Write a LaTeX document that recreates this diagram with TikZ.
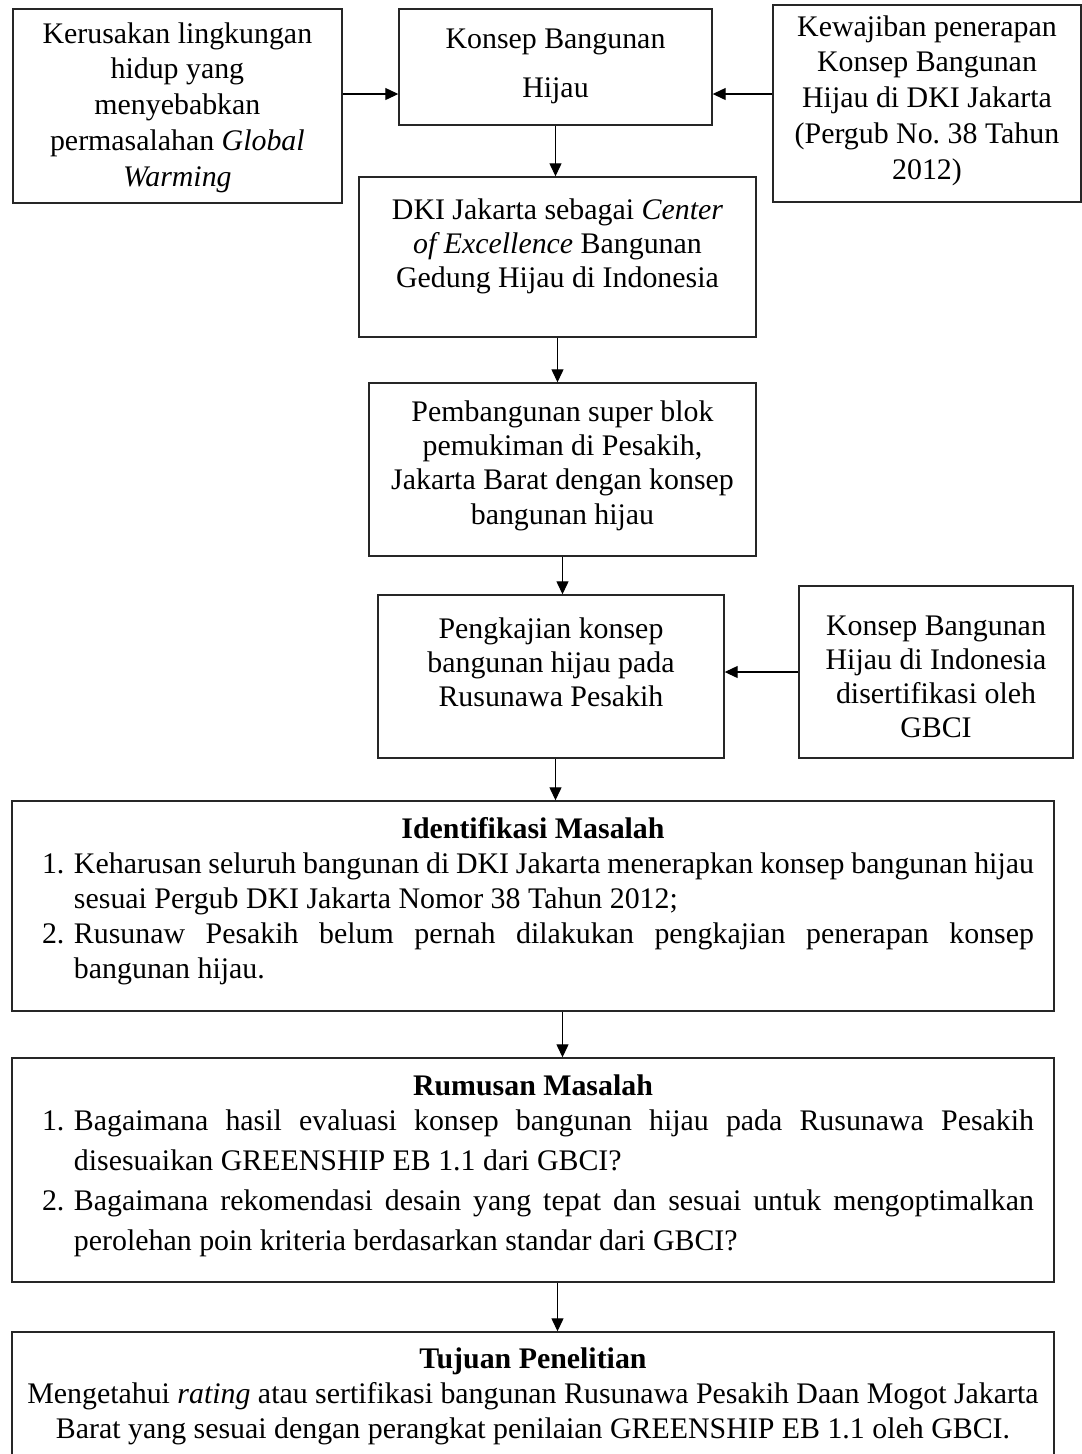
\documentclass[tikz,border=0pt]{standalone}
\usepackage{fontspec}
\setmainfont{Liberation Serif}
\usetikzlibrary{arrows.meta}
\tolerance=9999
\hyphenpenalty=10000
\frenchspacing
\newcommand{\butir}[2]{\par\noindent\hangindent=0.42cm\hangafter=1\hspace*{0.1cm}\makebox[0.32cm][l]{#1}#2\par}
\begin{document}
\begin{tikzpicture}[
  kotak/.style={draw=black!85,line width=0.4pt,inner sep=0pt,align=flush center},
  huruf/.style={font=\fontsize{8.5pt}{#1}\selectfont\frenchspacing},
  isi/.style 2 args={text height=#1,text depth=#2},
  panah/.style={-{Triangle[length=0.13cm,width=0.12cm]},line width=0.35pt}]
\useasboundingbox (0,0) rectangle (10.82,-14.54);
\coordinate (jalur) at (0,-0.94);

\node[kotak,huruf=10.2pt,isi={0.34cm}{1.60cm},minimum width=3.29cm,minimum height=1.94cm,text width=3.2cm] (kerusakan) at (1.774,-1.06) {Kerusakan lingkungan\\ hidup yang\\ menyebabkan\\ permasalahan \textit{Global}\\ \textit{Warming}};
\node[kotak,huruf=14.2pt,isi={0.39cm}{0.77cm},minimum width=3.13cm,minimum height=1.16cm,text width=3cm] (konsep) at (5.555,-0.67) {Konsep Bangunan\\ Hijau};
\node[kotak,huruf=10.2pt,isi={0.31cm}{1.66cm},minimum width=3.08cm,minimum height=1.97cm,text width=3cm] (kewajiban) at (9.27,-1.035) {Kewajiban penerapan\\ Konsep Bangunan\\ Hijau di DKI Jakarta\\ (Pergub No. 38 Tahun\\ 2012)};
\node[kotak,huruf=9.7pt,isi={0.42cm}{1.18cm},minimum width=3.97cm,minimum height=1.6cm,text width=3.9cm] (dki) at (5.575,-2.57) {DKI Jakarta sebagai \textit{Center}\\ \textit{of Excellence} Bangunan\\ Gedung Hijau di Indonesia};
\node[kotak,huruf=9.8pt,isi={0.38cm}{1.35cm},minimum width=3.87cm,minimum height=1.73cm,text width=3.8cm] (pembangunan) at (5.625,-4.695) {Pembangunan super blok\\ pemukiman di Pesakih,\\ Jakarta Barat dengan konsep\\ bangunan hijau};
\node[kotak,huruf=9.7pt,isi={0.43cm}{1.20cm},minimum width=3.46cm,minimum height=1.63cm,text width=3.4cm] (pengkajian) at (5.51,-6.765) {Pengkajian konsep\\ bangunan hijau pada\\ Rusunawa Pesakih};
\node[kotak,huruf=9.7pt,isi={0.49cm}{1.23cm},minimum width=2.74cm,minimum height=1.72cm,text width=2.7cm] (gbci) at (9.36,-6.72) {Konsep Bangunan\\ Hijau di Indonesia\\ disertifikasi oleh\\ GBCI};

\node[kotak,huruf=9.96pt,isi={0.37cm}{1.73cm},align=justify,minimum width=10.42cm,minimum height=2.1cm,text width=10.02cm] (identifikasi) at (5.33,-9.06) {{\centering\textbf{Identifikasi Masalah}\par}
  \butir{1.}{Keharusan seluruh bangunan di DKI Jakarta menerapkan konsep bangunan hijau\linebreak sesuai Pergub DKI Jakarta Nomor 38 Tahun 2012;}
  \butir{2.}{Rusunaw Pesakih belum pernah dilakukan pengkajian penerapan konsep\linebreak bangunan hijau.}};
\node[kotak,huruf=11.4pt,isi={0.37cm}{1.87cm},align=justify,minimum width=10.42cm,minimum height=2.24cm,text width=10.02cm] (rumusan) at (5.33,-11.70) {{\centering\textbf{Rumusan Masalah}\par}\vspace{-0.05cm}
  \butir{1.}{Bagaimana hasil evaluasi konsep bangunan hijau pada Rusunawa Pesakih\linebreak disesuaikan GREENSHIP EB 1.1 dari GBCI?}
  \butir{2.}{Bagaimana rekomendasi desain yang tepat dan sesuai untuk mengoptimalkan\linebreak perolehan poin kriteria berdasarkan standar dari GBCI?}};
\node[kotak,huruf=9.96pt,isi={0.36cm}{0.91cm},minimum width=10.42cm,minimum height=1.27cm,text width=10.3cm] (tujuan) at (5.33,-13.955) {\textbf{Tujuan Penelitian}\\ Mengetahui \textit{rating} atau sertifikasi bangunan Rusunawa Pesakih Daan Mogot Jakarta\\ Barat yang sesuai dengan perangkat penilaian GREENSHIP EB 1.1 oleh GBCI.};

\draw[panah] (kerusakan.east |- jalur) -- (konsep.west |- jalur);
\draw[panah] (kewajiban.west |- jalur) -- (konsep.east |- jalur);
\draw[panah] (konsep.south) -- (konsep.south |- dki.north);
\draw[panah] (dki.south) -- (dki.south |- pembangunan.north);
\draw[panah] (pembangunan.south) -- (pembangunan.south |- pengkajian.north);
\draw[panah] (gbci.west) -- (gbci.west -| pengkajian.east);
\draw[panah] (pengkajian.south -| konsep.south) -- (identifikasi.north -| konsep.south);
\draw[panah] (identifikasi.south -| pembangunan.south) -- (rumusan.north -| pembangunan.south);
\draw[panah] (rumusan.south -| dki.south) -- (tujuan.north -| dki.south);
\end{tikzpicture}
\end{document}
